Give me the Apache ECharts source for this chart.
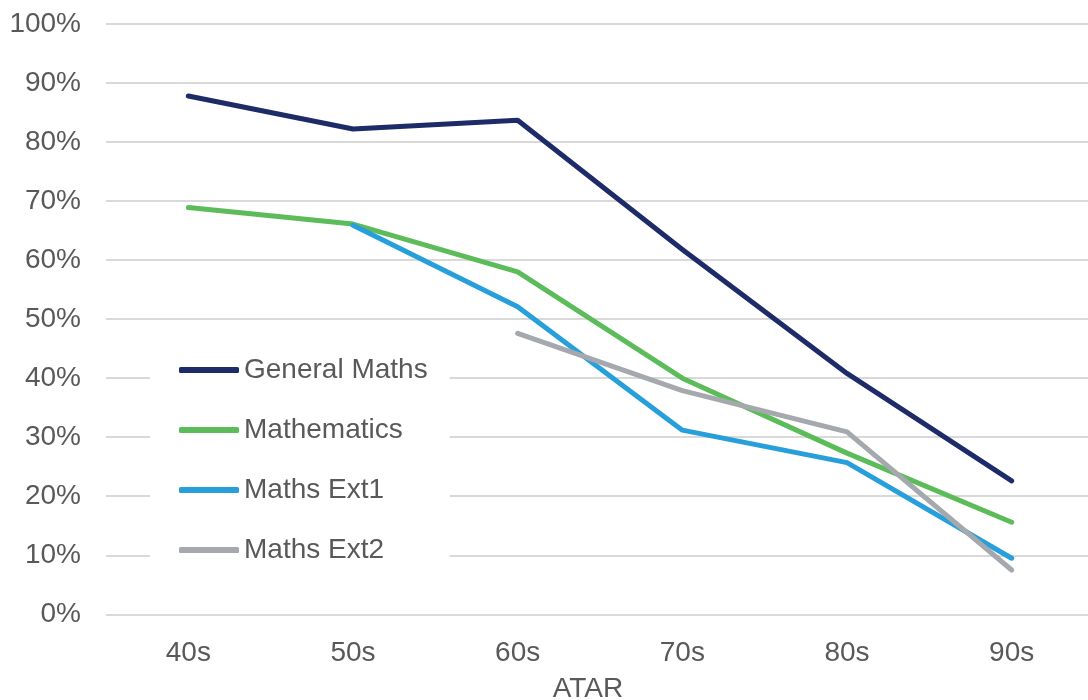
<!DOCTYPE html>
<html>
<head>
<meta charset="utf-8">
<script src="https://cdn.jsdelivr.net/npm/echarts@6/dist/echarts.min.js"></script>
<style>
html,body{margin:0;padding:0;background:#fff;}
#c{width:1088px;height:700px;}
</style>
</head>
<body>
<div id="c"></div>
<script>
const categories = ['40s', '50s', '60s', '70s', '80s', '90s'];
const seriesNames = ['General Maths', 'Mathematics', 'Maths Ext1', 'Maths Ext2'];
const generalMaths = [87.8, 82.2, 83.7, 61.8, 40.8, 22.6];
const mathematics = [68.9, 66.1, 58.0, 40.0, 27.3, 15.6];
const mathsExt1 = [null, 65.9, 52.1, 31.2, 25.7, 9.5];
const mathsExt2 = [null, null, 47.6, 37.9, 30.9, 7.5];
const yTicks = [0, 10, 20, 30, 40, 50, 60, 70, 80, 90, 100];
const colors = ['#1e2b69', '#5cbc5a', '#279fda', '#a5a8ac'];

const font = '"Liberation Sans", Arial, sans-serif';
const textColor = '#595959';
const allData = [generalMaths, mathematics, mathsExt1, mathsExt2];

const chart = echarts.init(document.getElementById('c'), null, {renderer: 'canvas'});
chart.setOption({
  backgroundColor: '#ffffff',
  animation: false,
  color: colors,
  grid: {left: 106, top: 24, width: 988, height: 590.3, containLabel: false, outerBoundsMode: 'none'},
  legend: {
    orient: 'vertical',
    left: 150,
    top: 335,
    padding: [20, 22, 20, 29],
    backgroundColor: '#ffffff',
    itemWidth: 60,
    itemHeight: 6,
    itemGap: 30,
    icon: 'roundRect',
    data: seriesNames,
    textStyle: {fontFamily: font, fontSize: 28, color: textColor, lineHeight: 30}
  },
  xAxis: {
    type: 'category',
    data: categories,
    boundaryGap: true,
    name: 'ATAR',
    nameLocation: 'middle',
    nameGap: 61,
    nameTextStyle: {fontFamily: font, fontSize: 28, color: textColor, padding: [0, 24, 0, 0]},
    axisLine: {show: false},
    axisTick: {show: false},
    splitLine: {show: false},
    axisLabel: {fontFamily: font, fontSize: 28, color: textColor, margin: 25}
  },
  yAxis: {
    type: 'value',
    min: yTicks[0],
    max: yTicks[yTicks.length - 1],
    interval: 10,
    axisLine: {show: false},
    axisTick: {show: false},
    splitLine: {show: true, lineStyle: {color: '#d9d9d9', width: 2}},
    axisLabel: {fontFamily: font, fontSize: 28, color: textColor, margin: 25,
      formatter: v => v + '%'}
  },
  series: seriesNames.map((n, i) => ({
    name: n,
    type: 'line',
    data: allData[i],
    symbol: 'none',
    showSymbol: false,
    smooth: false,
    lineStyle: {width: 5, color: colors[i], cap: 'round', join: 'round'},
    itemStyle: {color: colors[i]},
    emphasis: {disabled: true}
  }))
});
</script>
</body>
</html>
